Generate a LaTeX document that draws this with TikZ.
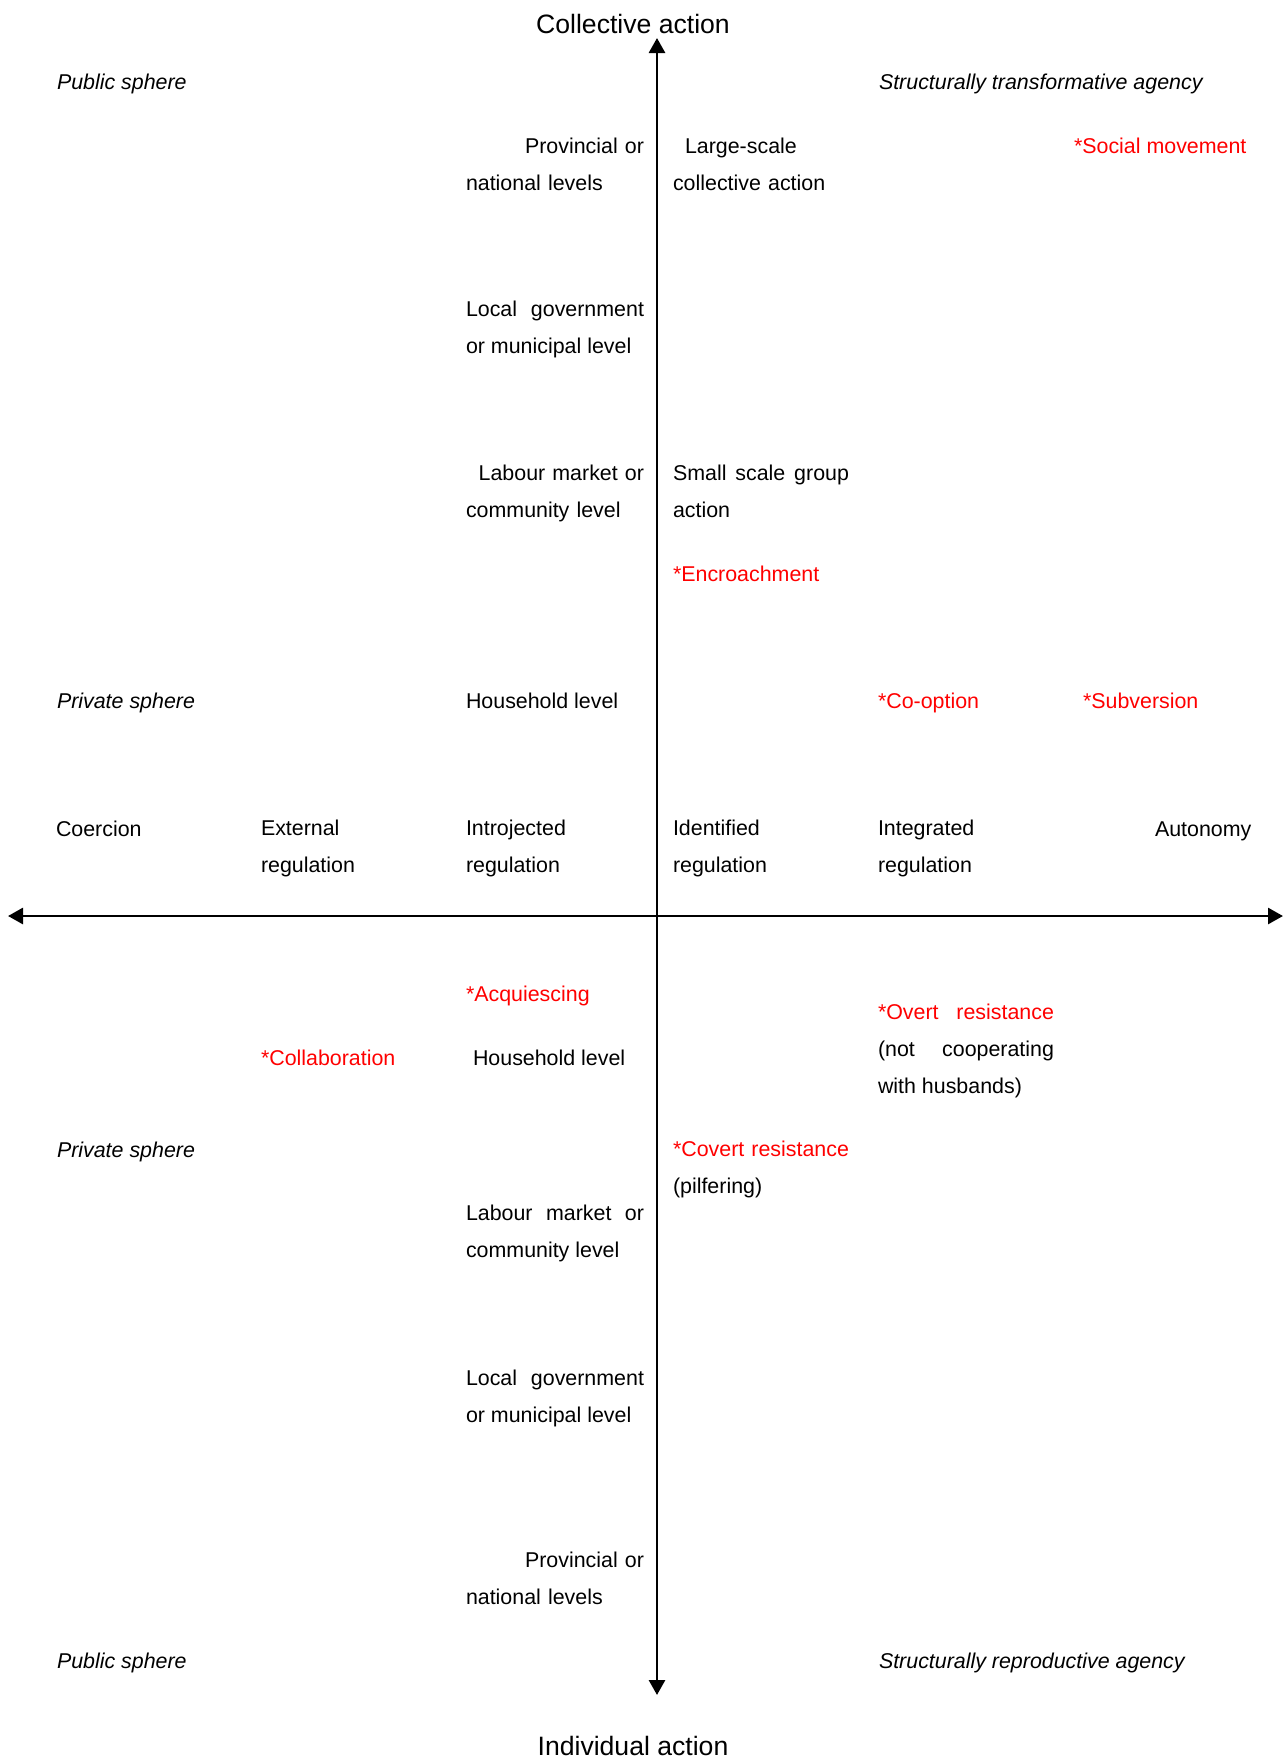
\documentclass[tikz,border=0pt]{standalone}
\usepackage{fontspec}
\setmainfont{Liberation Sans}
\usetikzlibrary{arrows.meta}
\hyphenpenalty=10000

\begin{document}
\begin{tikzpicture}[x=0.5pt,y=-0.5pt,
                    every node/.style={inner sep=0pt,outer sep=0pt,anchor=base west,
                                       font=\fontsize{10.7}{18.5}\selectfont},
                    hl/.style={text=red},
                    sph/.style={font=\fontsize{10.7}{18.5}\selectfont\itshape},
                    two/.style={text width=80pt,align=left},
                    txtl/.style={text width=89pt,align=left},
                    blk/.style={text width=89pt,align=justify},
                    blkr/.style={text width=88pt,align=justify},
                    title/.style={anchor=base,font=\fontsize{13.3}{16}\selectfont},
                    axis/.style={line width=1.4pt,
                                 {Triangle[length=7.5pt,width=8pt]}-{Triangle[length=7.5pt,width=8pt]}}]
                \useasboundingbox (0,0) rectangle (1285,1758);
                % axes
                \coordinate (north) at (657,38);
                \coordinate (south) at (657,1695);
                \coordinate (west) at (8,916);
                \coordinate (east) at (1283,916);
                \draw[axis] (west) -- (east);
                \draw[axis] (south) -- (north);
                \node[title] (coll) at (633,33) {Collective action};
                \node[title] (indiv) at (633,1755) {Individual action};
                % upper half
                \node[sph] (pub1) at (57,89) {Public sphere};
                \node[sph] (sta) at (879,89) {Structurally transformative agency};
                \node[txtl] (prov1) at (466,153) {\mbox{}\hspace{0pt plus 1filll}Provincial or\\national levels};
                \node[txtl] (large) at (673,153) {\hspace*{6pt}Large-scale\\collective action};
                \node[hl] (social) at (1074,153) {*Social movement};
                \node[blk] (loc1) at (466,316) {Local government\linebreak or municipal level};
                \node[txtl] (lab1) at (466,480) {\mbox{}\hspace{0pt plus 1filll}Labour market or\\community level};
                \node[blkr] (small) at (673,480) {Small scale group\linebreak action};
                \node[hl] (encr) at (673,581) {*Encroachment};
                \node[sph] (priv1) at (57,708) {Private sphere};
                \node (hh1) at (466,708) {Household level};
                \node[hl] (coopt) at (878,708) {*Co-option};
                \node[hl] (subv) at (1083,708) {*Subversion};
                % continuum
                \node (coer) at (56,836) {Coercion};
                \node[two] (ext) at (261,835) {External\\regulation};
                \node[two] (intro) at (466,835) {Introjected\\regulation};
                \node[two] (ident) at (673,835) {Identified\\regulation};
                \node[two] (integ) at (878,835) {Integrated\\regulation};
                \node (auto) at (1155,836) {Autonomy};
                % lower half
                \node[hl] (acq) at (466,1001) {*Acquiescing};
                \node[hl] (collab) at (261,1065) {*Collaboration};
                \node (hh2) at (473,1065) {Household level};
                \node[blkr] (overt) at (878,1019) {{\color{red}*Overt resistance}\linebreak (not cooperating\linebreak with husbands)};
                \node[sph] (priv2) at (57,1157) {Private sphere};
                \node[blkr] (covert) at (673,1156) {{\color{red}*Covert resistance}\linebreak (pilfering)};
                \node[blk] (lab2) at (466,1220) {Labour market or\linebreak community level};
                \node[blk] (loc2) at (466,1385) {Local government\linebreak or municipal level};
                \node[txtl] (prov2) at (466,1567) {\mbox{}\hspace{0pt plus 1filll}Provincial or\\national levels};
                \node[sph] (pub2) at (57,1668) {Public sphere};
                \node[sph] (sra) at (879,1668) {Structurally reproductive agency};
\end{tikzpicture}
\end{document}
